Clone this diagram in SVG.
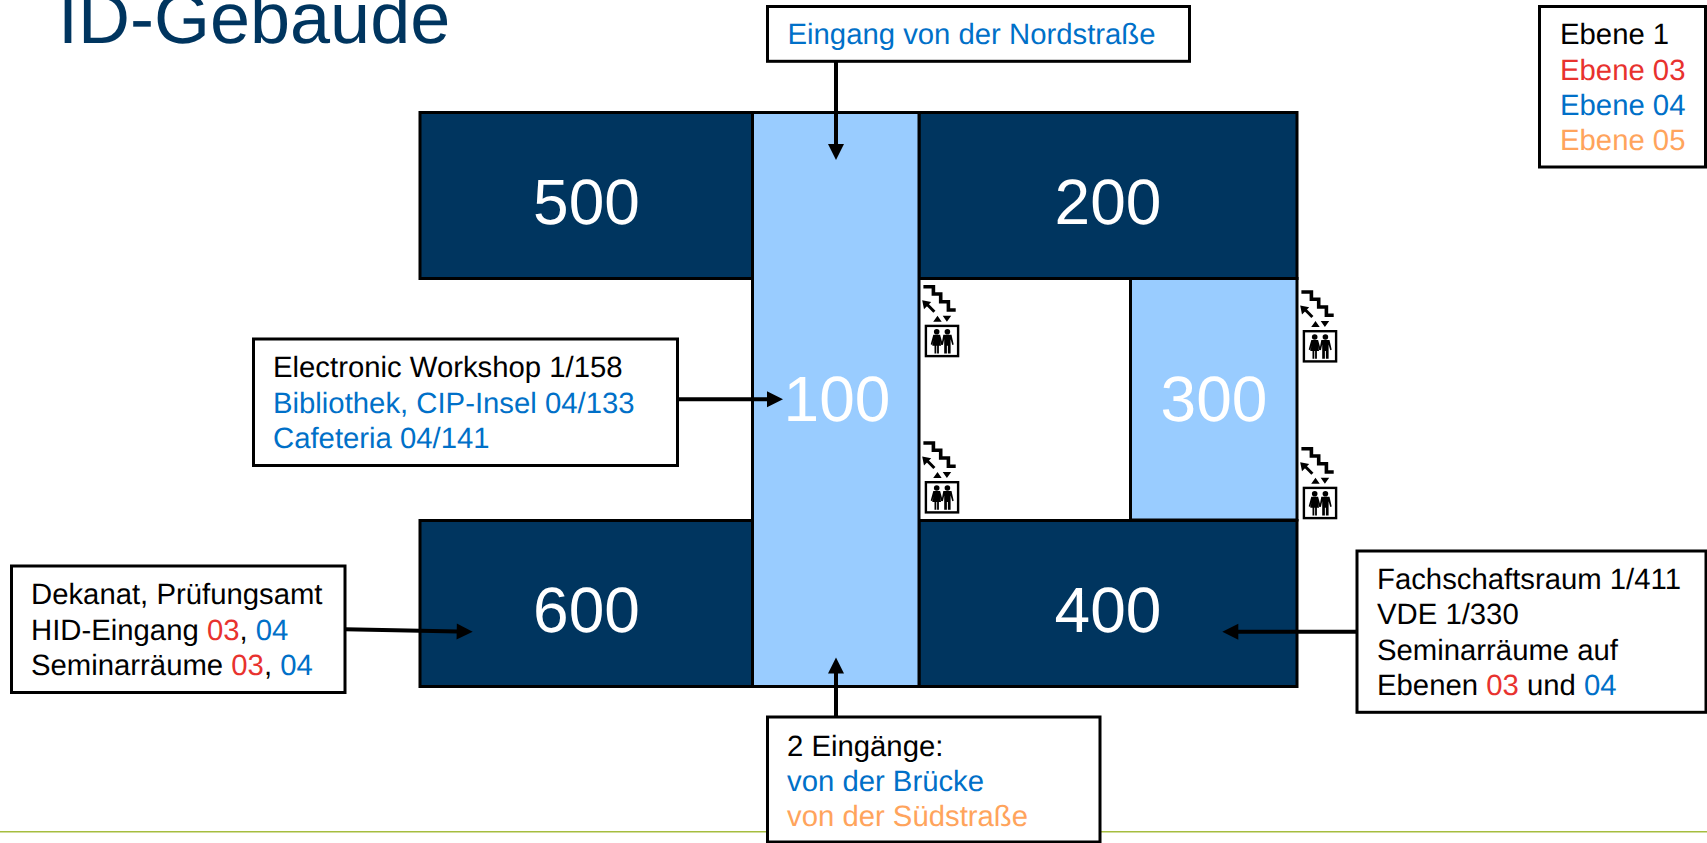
<svg xmlns="http://www.w3.org/2000/svg" width="1707" height="843" viewBox="0 0 1707 843">
<style>
text{font-family:"Liberation Sans",Arial,sans-serif;font-size:29.3px;fill:#000;text-rendering:geometricPrecision}
.b{fill:#0070c8}.r{fill:#e8322e}.o{fill:#ffa45c}
text.n{font-size:64px;fill:#fff;text-anchor:middle}
.dark{fill:#00355f;stroke:#000;stroke-width:3}
.light{fill:#99ccff;stroke:#000;stroke-width:3}
.box{fill:#fff;stroke:#000;stroke-width:3}
.c{stroke:#000;stroke-width:4;fill:none;marker-end:url(#h)}
</style>
<defs>
<marker id="h" markerUnits="userSpaceOnUse" markerWidth="18" markerHeight="18" refX="1" refY="9" orient="auto" overflow="visible"><path d="M0 1L16 9L0 17Z" fill="#000"/></marker>
<g id="icon">
<path d="M-1.3-38H8.7V-30.7H16V-23H23.7V-14.7H31" fill="none" stroke="#000" stroke-width="3.6"/>
<path d="M9.7-13L2-20.7" stroke="#000" stroke-width="3" fill="none"/>
<path d="M-2.5-24.5L6.5-22.7L-.7-15.5Z M8.5-3H17L12.8-8.9Z M18-8.9H26.5L22.2-3Z" fill="#000"/>
<rect x="1.2" y="1.2" width="32.2" height="30.2" fill="#fff" stroke="#000" stroke-width="2.4"/>
<circle cx="12" cy="7" r="2.8" fill="#000"/><circle cx="22.7" cy="7" r="2.8" fill="#000"/>
<path d="M8.6 10H15.4L18 19.5L16.5 20.3L15.2 15.5L16.4 21H14.2V28.7H12.4V21H11.6V28.7H9.8V21H7.6L8.8 15.5L7.5 20.3L6 19.5Z" fill="#000"/>
<path d="M18.6 10H26.8L29 19.8L27.6 20.3L25.9 14.5V28.7H23.2V21H22.2V28.7H19.5V14.5L18.2 20.3L16.8 19.8Z" fill="#000"/>
</g>
</defs>
<rect width="1707" height="843" fill="#fff"/>
<path d="M0 831.7H1707" stroke="#a5bd3f" stroke-width="1.6"/>
<text id="title" x="58" y="42.7" style="font-size:72px;fill:#00355f">ID-Gebaude</text>
<g id="n500"><rect class="dark" x="420" y="112.5" width="332.5" height="166"/><text class="n" x="586.5" y="224">500</text></g>
<g id="n200"><rect class="dark" x="919" y="112.5" width="378" height="166"/><text class="n" x="1108" y="224">200</text></g>
<g id="n300"><rect class="light" x="1130.5" y="278.5" width="166.5" height="241.5"/><text class="n" x="1214" y="420.5">300</text></g>
<g id="n600"><rect class="dark" x="420" y="520.5" width="332.5" height="166"/><text class="n" x="586.5" y="632">600</text></g>
<g id="n400"><rect class="dark" x="919" y="520.5" width="378" height="166"/><text class="n" x="1108" y="632">400</text></g>
<g id="n100"><rect class="light" x="752.5" y="112.5" width="166.5" height="574"/><text class="n" x="837" y="420.5">100</text></g>
<g id="icon1"><use href="#icon" x="924.7" y="324.7"/></g>
<g id="icon2"><use href="#icon" x="924.7" y="481"/></g>
<g id="icon3"><use href="#icon" x="1302.7" y="330"/></g>
<g id="icon4"><use href="#icon" x="1302.7" y="486.7"/></g>
<g id="connectors">
<path class="c" d="M836 61V145"/>
<path class="c" d="M836 717V672.5"/>
<path class="c" d="M677.5 399.3H768"/>
<path class="c" d="M345 629.3L457.7 631.4"/>
<path class="c" d="M1357 631.7H1237.3"/>
</g>
<g id="legend"><rect class="box" x="1539.5" y="6.5" width="166" height="160.5"/>
<text x="1560" y="44">Ebene 1</text><text class="r" x="1560" y="79.5">Ebene 03</text><text class="b" x="1560" y="114.8">Ebene 04</text><text class="o" x="1560" y="150">Ebene 05</text></g>
<g id="north"><rect class="box" x="767.5" y="6.5" width="422" height="54.8"/><text class="b" x="787.5" y="43.6">Eingang von der Nordstraße</text></g>
<g id="workshop"><rect class="box" x="253.5" y="339" width="424" height="126.5"/>
<text x="273" y="376.9">Electronic Workshop 1/158</text><text class="b" x="273" y="412.5">Bibliothek, CIP-Insel 04/133</text><text class="b" x="273" y="447.8">Cafeteria 04/141</text></g>
<g id="dekanat"><rect class="box" x="11.5" y="566" width="333.5" height="126.5"/>
<text x="31" y="604.3">Dekanat, Prüfungsamt</text>
<text x="31" y="639.8">HID-Eingang <tspan class="r">03</tspan>, <tspan class="b">04</tspan></text>
<text x="31" y="675.1">Seminarräume <tspan class="r">03</tspan>, <tspan class="b">04</tspan></text></g>
<g id="fachschaft"><rect class="box" x="1357" y="551" width="349" height="161.3"/>
<text x="1377" y="589">Fachschaftsraum 1/411</text><text x="1377" y="624.3">VDE 1/330</text><text x="1377" y="659.7">Seminarräume auf</text>
<text x="1377" y="695">Ebenen <tspan class="r">03</tspan> und <tspan class="b">04</tspan></text></g>
<g id="south"><rect class="box" x="767.5" y="717" width="332.5" height="125"/>
<text x="787" y="755.7">2 Eingänge:</text><text class="b" x="787" y="790.8">von der Brücke</text><text class="o" x="787" y="825.9">von der Südstraße</text></g>
</svg>
